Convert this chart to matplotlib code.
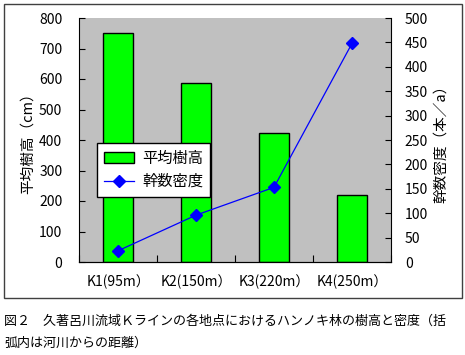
import matplotlib
matplotlib.use("Agg")
import matplotlib.pyplot as plt
from matplotlib.patches import Rectangle

plt.rcParams['font.family'] = ['Noto Sans CJK JP', 'DejaVu Sans']

categories = ["K1(95m）", "K2(150m）", "K3(220m）", "K4(250m）"]
height_cm = [750, 587, 423, 220]
density = [23, 96, 153, 448]
left_ticks = [0, 100, 200, 300, 400, 500, 600, 700, 800]
right_ticks = [0, 50, 100, 150, 200, 250, 300, 350, 400, 450, 500]

W, H = 465, 355
fig = plt.figure(figsize=(W/100, H/100), dpi=100)
fig.patch.set_facecolor('white')

# outer chart frame
fig.add_artist(Rectangle((4/W, 1-298/H), 458/W, 294/H, transform=fig.transFigure,
                         fill=False, edgecolor='#404040', lw=1.0))

ax = fig.add_axes([79/W, 1-262/H, 312/W, 244/H])
ax.set_facecolor('#C0C0C0')
x = list(range(len(categories)))
bars = ax.bar(x, height_cm, width=0.39, color='#00FF00', edgecolor='black', lw=1.0,
              label='平均樹高', zorder=2)
ax.set_xlim(-0.5, 3.5)
ax.set_ylim(0, 800)
ax.set_yticks(left_ticks)
ax.set_xticks([-0.5, 0.5, 1.5, 2.5, 3.5])
ax.set_xticklabels([])
ax.set_xticks(x, minor=True)
ax.set_xticklabels(categories, minor=True)
ax.tick_params(axis='x', which='minor', length=0, pad=9, labelsize=10)
ax.tick_params(axis='x', which='major', direction='in', length=5)
ax.tick_params(axis='y', direction='in', length=4, labelsize=10, pad=12)
for s in ['top', 'right']:
    ax.spines[s].set_visible(False)
ax.set_ylabel('平均樹高（cm）', fontsize=10.5, labelpad=3)

ax2 = ax.twinx()
line, = ax2.plot(x, density, color='#0000FF', lw=0.9, marker='D', markersize=6,
                 label='幹数密度', zorder=3)
ax2.set_ylim(0, 500)
ax2.set_yticks(right_ticks)
ax2.tick_params(axis='y', direction='in', length=4, labelsize=10, pad=10)
for s in ['top', 'left']:
    ax2.spines[s].set_visible(False)
ax2.set_ylabel('幹数密度（本／a）', fontsize=10.5, rotation=90, labelpad=4)

leg = ax.legend([bars, line], ['平均樹高', '幹数密度'], loc='upper left',
                bbox_to_anchor=((97-79)/312, (262-143)/244), fontsize=11,
                frameon=True, fancybox=False, framealpha=1, edgecolor='black',
                handlelength=2.0, borderpad=0.45, labelspacing=0.4, handletextpad=0.5,
                borderaxespad=0)
leg.get_frame().set_linewidth(1.0)
leg.set_zorder(5)

fig.text(4/W, 1-325/H, '図２　久著呂川流域Ｋラインの各地点におけるハンノキ林の樹高と密度（括',
         fontsize=9.4, va='baseline')
fig.text(4/W, 1-347/H, '弧内は河川からの距離）', fontsize=9.4, va='baseline')

fig.savefig('out.png', dpi=100)
